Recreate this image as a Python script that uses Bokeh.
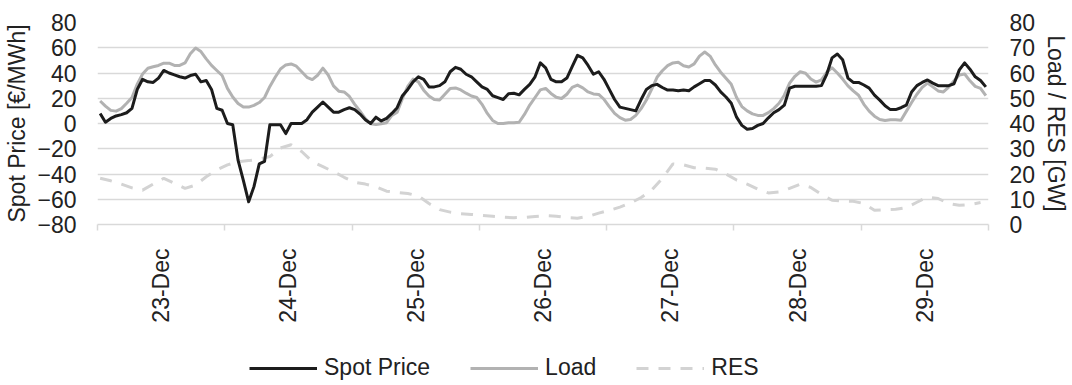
import math
from bokeh.plotting import figure
from bokeh.layouts import column
from bokeh.models import (Range1d, LinearAxis, FixedTicker, Legend, LegendItem,
                          ColumnDataSource)
from bokeh.embed import file_html
from bokeh.resources import INLINE

# ---------------- data ----------------
days = ["23-Dec", "24-Dec", "25-Dec", "26-Dec", "27-Dec", "28-Dec", "29-Dec"]
hours = list(range(168))

spot_price = [
    8, 1, 4, 6, 7, 8.5, 12, 27, 35, 33, 32.5, 36, 42, 40, 38.5, 37, 36, 38, 39, 33, 34, 27, 12, 10.5,
    0, -1, -29, -45, -62, -50, -32, -30, -1, -1, -1, -8, 0, 0, 0, 3, 9, 13, 17, 13, 9, 9, 11, 12.5,
    11, 7.5, 3, 0, 5, 2, 4, 8, 12.5, 22, 27, 33, 37, 35, 29, 29, 30, 33, 41, 44.5, 43, 39, 37, 33,
    29, 27, 22, 20.5, 19, 23.5, 24, 22.7, 27, 31, 37, 48, 44, 35, 33, 33, 36, 45, 54, 52, 46, 39, 41, 35,
    27, 19, 13, 12, 11, 10, 19, 27, 30, 31, 28.5, 26.5, 26.5, 26, 26.5, 26, 29, 31.5, 34, 34, 30.5, 25, 21, 16,
    5, -1.5, -4.5, -4, -1.5, 0, 4.5, 8.5, 11, 14.5, 28, 29.5, 29.5, 29.5, 29.5, 29.5, 30, 39, 52, 55, 50.5, 36, 32.5, 32.5,
    30.5, 28, 22.5, 18.5, 14, 11, 11, 12.5, 14.5, 25, 30, 32.5, 34.5, 32, 30, 30, 30, 31.5, 42.5, 48, 43, 37, 34, 29,
]

load = [
    48.9, 46.9, 45.2, 44.9, 45.9, 48, 50.3, 55.6, 59.6, 61.9, 62.5, 63, 63.9, 63.9, 63, 63, 64, 67.6, 69.9, 68.5, 65.6, 63, 61, 59,
    53.9, 50.5, 47.9, 46.5, 46.5, 47.2, 48.3, 50.3, 54.7, 58.3, 61.6, 63.2, 63.6, 62.7, 60.5, 58.3, 57.4, 59.1, 61.9, 59.2, 54.9, 52.8, 52.5, 50.7,
    47.6, 44.9, 41.9, 39.9, 39.6, 39.9, 40.3, 43.2, 44.5, 49.9, 54.7, 57.6, 56.5, 53.2, 50.9, 49.5, 49.3, 51.6, 53.9, 54.1, 53.3, 52, 50.9, 50.3,
    47.6, 44, 41.2, 40, 40, 40.3, 40.3, 40.5, 43.6, 47.3, 50.3, 53.3, 53.9, 51.9, 50.4, 49.9, 51.6, 54.3, 55.2, 54.1, 52.5, 51.7, 51.5, 49.6,
    46.7, 44, 42.3, 41.3, 41.6, 43.2, 45.9, 49.3, 53.6, 58.3, 60.9, 62.9, 64, 64.3, 62.9, 62.4, 63.6, 66.7, 68.3, 66.7, 63.2, 60.3, 57.9, 55.5,
    50.3, 46.7, 45, 43.8, 43.2, 43.2, 44.3, 45.9, 48, 51.2, 56, 58.7, 60.5, 59.9, 57.6, 56.4, 57.3, 60.3, 62.1, 60, 57.6, 54.9, 52.9, 51.2,
    47.6, 44.9, 42.9, 41.6, 41.2, 41.5, 41.5, 41.3, 44.8, 48.3, 51.6, 54.3, 56, 54.5, 52.9, 52.5, 54.4, 56.9, 59.2, 59.6, 56.9, 54.7, 53.9, 51,
]

res_hours = list(range(0, 168, 2))
res = [
    18.3, 17.3, 16, 14.5, 13.6, 16, 18.3, 16.3, 14.3, 15.6, 18.9, 21.6,
    23.6, 24.9, 25.3, 25.9, 26.9, 30.3, 31.6, 28.9, 24.9, 22.9, 20.9, 18.7,
    16.7, 16, 14.9, 13.2, 12.7, 12.3, 11.3, 8.3, 5.9, 4.9, 4.3, 4,
    3.6, 3.3, 2.9, 2.7, 2.8, 3.2, 3.5, 3.3, 2.7, 2.5, 3.2, 4.5,
    5.6, 6.9, 8.5, 10.7, 13.6, 18.3, 24, 23.6, 22.5, 22.3, 21.9, 20,
    17.6, 16, 14, 12.5, 12.9, 14.3, 16, 14.7, 11.9, 9.6, 9.3, 9.2,
    8.3, 5.6, 5.9, 6, 6.7, 8.8, 10.9, 10.3, 8.3, 7.6, 7.9, 8.7,
]

price_ticks = [-80, -60, -40, -20, 0, 20, 40, 60, 80]
gw_ticks = [0, 10, 20, 30, 40, 50, 60, 70, 80]

# ---------------- styling ----------------
FONT = "Liberation Sans"
FS = "23px"
TXT = "#222222"
GRID = "#d9d9d9"
C_PRICE = "#1c1c1c"
C_LOAD = "#b2b2b2"
C_RES = "#d3d3d3"
RES_DASH = "12 10"

hours_per_day = 24
n_hours = len(hours)

p = figure(width=1072, height=330, output_backend="svg", toolbar_location=None,
           x_range=Range1d(0, n_hours), y_range=Range1d(price_ticks[0], price_ticks[-1]),
           min_border_left=97, min_border_right=84, min_border_top=22, min_border_bottom=106)
p.outline_line_color = None
p.background_fill_color = "white"
p.border_fill_color = "white"
p.extra_y_ranges = {"gw": Range1d(gw_ticks[0], gw_ticks[-1])}

src = ColumnDataSource(dict(x=[h + 0.5 for h in hours], price=spot_price, load=load))
src_res = ColumnDataSource(dict(x=[h + 0.5 for h in res_hours], res=res))

p.line("x", "res", source=src_res, y_range_name="gw", line_color=C_RES,
       line_width=3, line_dash=RES_DASH)
p.line("x", "load", source=src, y_range_name="gw", line_color=C_LOAD,
       line_width=3, line_join="round")
p.line("x", "price", source=src, line_color=C_PRICE, line_width=3, line_join="round")

# x axis
xa = p.xaxis[0]
day_centers = [i * hours_per_day + hours_per_day / 2 for i in range(len(days))]
day_bounds = [i * hours_per_day for i in range(len(days) + 1)]
xa.ticker = FixedTicker(ticks=day_centers, minor_ticks=day_bounds)
xa.major_label_overrides = {c: d for c, d in zip(day_centers, days)}
xa.major_label_orientation = math.pi / 2
xa.major_tick_out = 0
xa.major_tick_in = 0
xa.minor_tick_out = 6
xa.minor_tick_in = 0
xa.minor_tick_line_color = GRID
xa.minor_tick_line_width = 1.5
xa.axis_line_color = GRID
xa.axis_line_width = 1.5
xa.major_label_standoff = 18
xa.major_label_text_font = FONT
xa.major_label_text_font_size = FS
xa.major_label_text_color = TXT

# left axis
ya = p.yaxis[0]
ya.ticker = FixedTicker(ticks=price_ticks)
ya.axis_line_color = None
ya.major_tick_line_color = None
ya.minor_tick_line_color = None
ya.major_tick_out = 0
ya.major_label_standoff = 21
ya.major_label_text_font = FONT
ya.major_label_text_font_size = FS
ya.major_label_text_color = TXT
ya.axis_label = "Spot Price [€/MWh]"
ya.axis_label_text_font = FONT
ya.axis_label_text_font_size = FS
ya.axis_label_text_font_style = "normal"
ya.axis_label_text_color = TXT
ya.axis_label_standoff = 4

# right axis
ra = LinearAxis(y_range_name="gw", ticker=FixedTicker(ticks=gw_ticks))
ra.axis_line_color = None
ra.major_tick_line_color = None
ra.minor_tick_line_color = None
ra.major_tick_out = 0
ra.major_label_standoff = 21
ra.major_label_text_font = FONT
ra.major_label_text_font_size = FS
ra.major_label_text_color = TXT
ra.axis_label = "Load / RES [GW]"
ra.axis_label_text_font = FONT
ra.axis_label_text_font_size = FS
ra.axis_label_text_font_style = "normal"
ra.axis_label_text_color = TXT
ra.axis_label_standoff = 5
p.add_layout(ra, "right")

# grid
p.xgrid.grid_line_color = None
p.ygrid.ticker = FixedTicker(ticks=price_ticks)
p.ygrid.grid_line_color = GRID
p.ygrid.grid_line_width = 1.5

# ---------------- legend strip ----------------
nan = float("nan")
lg = figure(width=1072, height=55, output_backend="svg", toolbar_location=None,
            x_range=Range1d(0, 1), y_range=Range1d(0, 1),
            x_axis_location=None, y_axis_location=None, min_border=0)
lg.outline_line_color = None
lg.grid.grid_line_color = None
k_price = lg.line(x=[nan], y=[nan], line_color=C_PRICE, line_width=3)
k_load = lg.line(x=[nan], y=[nan], line_color=C_LOAD, line_width=3)
k_res = lg.line(x=[nan], y=[nan], line_color=C_RES, line_width=3, line_dash=RES_DASH)
legend = Legend(items=[LegendItem(label="Spot Price", renderers=[k_price]),
                       LegendItem(label="Load", renderers=[k_load]),
                       LegendItem(label="RES", renderers=[k_res])],
                orientation="horizontal", location=(152, 4),
                glyph_width=68, glyph_height=20, label_standoff=7, spacing=40,
                label_text_font=FONT, label_text_font_size=FS, label_text_color=TXT,
                border_line_alpha=0, background_fill_alpha=0, padding=0, margin=0)
lg.add_layout(legend)

open("out.html", "w").write(file_html(column(p, lg, spacing=0), INLINE))
